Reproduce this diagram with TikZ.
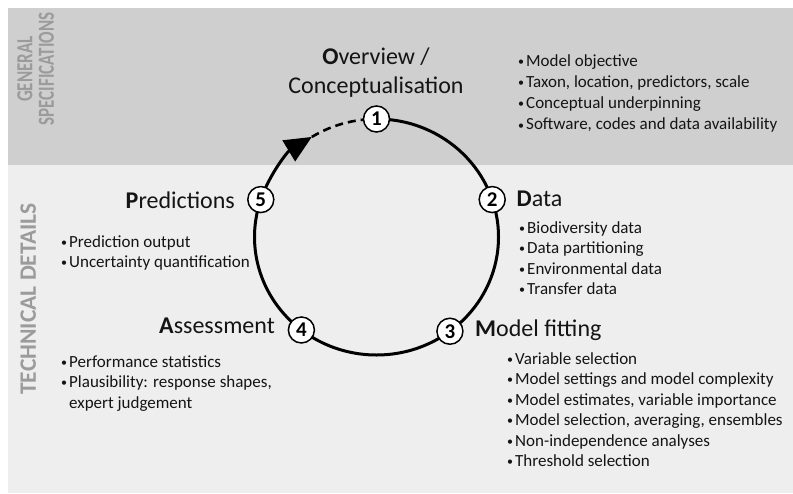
\documentclass[tikz,border=0pt]{standalone}
\usepackage{fontspec}
\setmainfont{Carlito}
\usetikzlibrary{arrows.meta,calc}
\definecolor{topband}{RGB}{207,207,207}
\definecolor{lowband}{RGB}{238,238,238}
\definecolor{vtext}{RGB}{155,155,155}
\definecolor{ink}{RGB}{20,20,20}
\newcommand\bul{\makebox[8pt][l]{\raisebox{0.8pt}{\fontsize{12}{12}\selectfont •}}}
\newcommand\blist[1]{\begin{tabular}[t]{@{}l@{}}#1\end{tabular}}
\begin{document}
\begin{tikzpicture}[x=1pt,y=-1pt,
  title/.style={font=\fontsize{24}{29}\selectfont, inner sep=0, anchor=base west, text=ink},
  items/.style={font=\fontsize{17}{20.5}\selectfont, inner sep=0, anchor=base west, text=ink},
  stepnum/.style={circle, draw, line width=1.5pt, fill=white, minimum size=26pt, inner sep=0, font=\fontsize{21}{21}\selectfont\bfseries},
  vlabel/.style={rotate=90, text=vtext, align=center, inner sep=0},
  cyc/.style={line width=3pt}]
\useasboundingbox (0,0) rectangle (793,493);
\fill[topband] (8,8) rectangle (793,165);
\fill[lowband] (8,165) rectangle (793,493);

\coordinate (c) at (376.5,237);
\path (c) ++(-90:122 and 118) coordinate (p1);
\path (c) ++(-18.5:122 and 118) coordinate (p2);
\path (c) ++(53:122 and 118) coordinate (p3);
\path (c) ++(128:122 and 118) coordinate (p4);
\path (c) ++(198.5:122 and 118) coordinate (p5);
\path (c) ++(238:122 and 118) coordinate (tip);

\draw[cyc] (p1) arc[start angle=-90, end angle=198.5, x radius=122, y radius=118];
\draw[cyc, -{Triangle[length=27pt,width=24pt]}] (p5) arc[start angle=198.5, end angle=238, x radius=122, y radius=118];
\draw[line width=2.6pt, dash pattern=on 8pt off 5pt] (tip) arc[start angle=238, end angle=270, x radius=122, y radius=118];

\node[stepnum] (n1) at (p1) {1};
\node[stepnum] (n2) at (p2) {2};
\node[stepnum] (n3) at (p3) {3};
\node[stepnum] (n4) at (p4) {4};
\node[stepnum] (n5) at (p5) {5};

\node[title, anchor=base] (t1a) at (376,64) {\textbf{O}verview /};
\node[title, anchor=base] (t1b) at (376,93) {Conceptualisation};
\node[title] (t2) at (516.5,206) {\textbf{D}ata};
\node[title] (t3) at (475,336) {\textbf{M}odel fitting};
\node[title, anchor=base east] (t5) at (235,208) {\textbf{P}redictions};
\node[title, anchor=base east] (t4) at (275,333) {\textbf{A}ssessment};

\node[items, font=\fontsize{17}{21.3}\selectfont] (l1) at (518,66) {\blist{\bul Model objective\\ \bul Taxon, location, predictors, scale\\ \bul Conceptual underpinning\\ \bul Software, codes and data availability}};
\node[items] (l2) at (519,233) {\blist{\bul Biodiversity data\\ \bul Data partitioning\\ \bul Environmental data\\ \bul Transfer data}};
\node[items] (l3) at (507,364) {\blist{\bul Variable selection\\ \bul Model settings and model complexity\\ \bul Model estimates, variable importance\\ \bul Model selection, averaging, ensembles\\ \bul Non-independence analyses\\ \bul Threshold selection}};
\node[items] (l5) at (61,247) {\blist{\bul Prediction output\\ \bul Uncertainty quantification}};
\node[items] (l4) at (61,367) {\blist{\bul Performance statistics\\ \bul Plausibility: response shapes,\\ \hspace*{8pt}expert judgement}};

\node[vlabel, font=\fontsize{23}{21}\selectfont\bfseries] (gs) at (38.7,69) {\scalebox{0.74}[1]{\begin{tabular}{@{}c@{}}GENERAL\\SPECIFICATIONS\end{tabular}}};
\node[vlabel, font=\fontsize{23.5}{28}\selectfont\bfseries] (td) at (28.3,299) {TECHNICAL DETAILS};
\end{tikzpicture}
\end{document}
